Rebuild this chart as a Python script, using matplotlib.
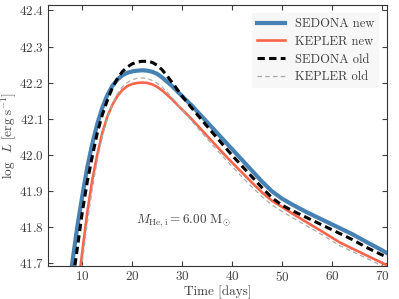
import matplotlib
matplotlib.use("Agg")
import matplotlib.pyplot as plt

plt.rcParams.update({
    "font.family": "serif",
    "font.serif": ["cmr10", "DejaVu Serif"],
    "mathtext.fontset": "cm",
    "axes.formatter.use_mathtext": True,
    "font.size": 9.5,
    "text.color": "0.25",
    "axes.labelcolor": "0.25",
    "xtick.color": "0.25",
    "ytick.color": "0.25",
    "axes.edgecolor": "0.2",
})

# SEDONA new
t_sn = [7, 8, 9, 10, 11, 12, 13, 14, 15, 16, 17, 18, 19, 20, 21, 22, 23, 24, 25, 26, 27, 28,
        30, 32, 34, 36, 38, 40, 42, 44, 46, 48, 50, 52, 55, 58, 61, 64, 67, 70, 71]
L_sn = [41.60, 41.70, 41.80, 41.885, 41.965, 42.03, 42.085, 42.13, 42.165, 42.19, 42.208, 42.22,
        42.227, 42.231, 42.233, 42.234, 42.233, 42.23, 42.224, 42.214, 42.202, 42.19,
        42.162, 42.135, 42.105, 42.075, 42.045, 42.015, 41.985, 41.955, 41.925, 41.898,
        41.878, 41.862, 41.84, 41.82, 41.80, 41.78, 41.757, 41.735, 41.727]

# KEPLER new
t_kn = [9, 10, 11, 12, 13, 14, 15, 16, 17, 18, 19, 20, 21, 22, 23, 24, 25, 26, 27, 28,
        30, 32, 34, 36, 38, 40, 42, 44, 46, 48, 50, 52, 55, 58, 61.5, 64, 67, 70, 71]
L_kn = [41.62, 41.73, 41.84, 41.93, 42.0, 42.06, 42.105, 42.138, 42.162, 42.179, 42.19,
        42.196, 42.199, 42.2, 42.199, 42.195, 42.188, 42.178, 42.166, 42.153,
        42.125, 42.097, 42.067, 42.037, 42.007, 41.978, 41.95, 41.922, 41.895, 41.872,
        41.855, 41.837, 41.812, 41.787, 41.757, 41.74, 41.72, 41.70, 41.693]

# SEDONA old
t_so = [7, 8, 9, 10, 11, 12, 13, 14, 15, 16, 17, 18, 19, 20, 21, 22, 23, 24, 25, 26, 27, 28,
        30, 32, 34, 36, 38, 40, 42, 44, 46, 48, 50, 52, 55, 58, 61, 64, 67, 70, 71]
L_so = [41.55, 41.64, 41.74, 41.84, 41.925, 41.995, 42.06, 42.11, 42.15, 42.185, 42.21, 42.23,
        42.243, 42.252, 42.257, 42.259, 42.259, 42.256, 42.248, 42.235, 42.218, 42.2,
        42.162, 42.128, 42.095, 42.062, 42.03, 41.998, 41.968, 41.938, 41.908, 41.88,
        41.86, 41.845, 41.825, 41.805, 41.785, 41.765, 41.742, 41.722, 41.716]

# KEPLER old
t_ko = [9, 10, 11, 12, 13, 14, 15, 16, 17, 18, 19, 20, 21, 22, 23, 24, 25, 26, 27, 28,
        30, 32, 34, 36, 38, 40, 42, 44, 46, 48, 50, 52, 55, 58, 61.5, 64, 67, 70, 71]
L_ko = [41.58, 41.70, 41.81, 41.905, 41.985, 42.05, 42.1, 42.14, 42.168, 42.188, 42.2,
        42.208, 42.212, 42.213, 42.211, 42.206, 42.198, 42.187, 42.173, 42.158,
        42.125, 42.092, 42.06, 42.028, 41.997, 41.967, 41.938, 41.91, 41.883, 41.86,
        41.843, 41.826, 41.802, 41.778, 41.748, 41.732, 41.712, 41.692, 41.686]

fig = plt.figure(figsize=(3.99, 2.99), dpi=100)
ax = fig.add_axes([0.121, 0.111, 0.848, 0.871])

ax.plot(t_sn, L_sn, color="#4682b4", lw=3.0, label="SEDONA new", zorder=3)
ax.plot(t_kn, L_kn, color="#f8654a", lw=1.9, label="KEPLER new", zorder=3)
ax.plot(t_so, L_so, color="black", lw=2.2, dashes=(2.4, 1.4), label="SEDONA old", zorder=4)
ax.plot(t_ko, L_ko, color="#aaaaaa", lw=0.9, dashes=(3.6, 2.6), label="KEPLER old", zorder=4)

ax.set_xlim(3.2, 70.9)
ax.set_ylim(41.692, 42.414)
ax.set_xticks([10, 20, 30, 40, 50, 60, 70])
ax.set_yticks([41.7, 41.8, 41.9, 42.0, 42.1, 42.2, 42.3, 42.4])
ax.tick_params(direction="in", top=True, right=True, length=3.5, width=0.8, pad=3)
ax.set_xlabel("Time [days]", labelpad=1)
ax.set_ylabel(r"$\log\ \ L\ [{\rm erg\ s^{-1}}]$", labelpad=1)

ax.text(0.40, 0.173, r"$M_{\rm He,i} = 6.00\ {\rm M}_{\odot}$", transform=ax.transAxes,
        ha="center", va="center")

leg = ax.legend(loc="upper right", frameon=True, fancybox=False, framealpha=1,
                facecolor="#f7f7f7", edgecolor="none", handlelength=2.2,
                borderaxespad=0.6, labelspacing=0.45, fontsize=9)

fig.savefig("out.png", dpi=100)
